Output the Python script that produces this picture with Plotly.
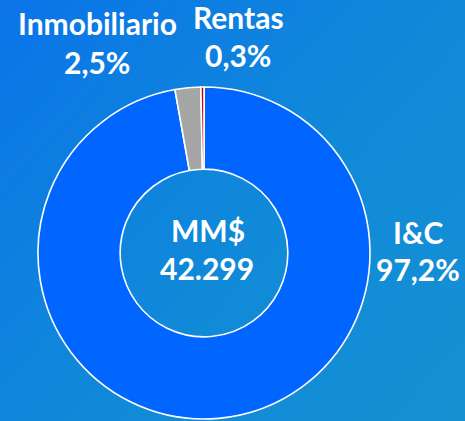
import numpy as np
import plotly.graph_objects as go

categories = ["I&C", "Inmobiliario", "Rentas"]
shares = [97.2, 2.5, 0.3]
share_labels = ["97,2%", "2,5%", "0,3%"]
colors = ["#0066FF", "#A6A6A6", "#C00000"]
total_label = "MM$"
total_value = "42.299"

W, H = 465, 421
FONT = "Lato"

# background gradient (decoration)
nx, ny = 40, 40
gx = np.linspace(-0.05, 1.05, nx)
gy = np.linspace(-0.05, 1.05, ny)
X, Y = np.meshgrid(gx, gy)
Z = 0.55 * X + 0.45 * (1 - Y)

fig = go.Figure()
fig.add_trace(go.Heatmap(
    z=Z, x=gx, y=gy, showscale=False, hoverinfo="skip",
    colorscale=[[0, "#0A72EA"], [0.5, "#1088DA"], [1, "#1692D0"]],
    zsmooth="best", xaxis="x", yaxis="y",
))

cx, cy, r = 204, 253, 166
fig.add_trace(go.Pie(
    labels=categories, values=shares, sort=False, direction="clockwise",
    rotation=0, hole=0.505, textinfo="none", hoverinfo="label+percent",
    marker=dict(colors=colors, line=dict(color="white", width=1.6)),
    domain=dict(x=[(cx - r) / W, (cx + r) / W], y=[(H - cy - r) / H, (H - cy + r) / H]),
    showlegend=False,
))

def ann(text, x, y, size=30):
    fig.add_annotation(text=f"<b>{text}</b>", x=x / W, y=1 - y / H, xref="paper", yref="paper",
                       showarrow=False, font=dict(family=FONT, size=size, color="white"),
                       xanchor="center", yanchor="middle")

ann(categories[1], 97, 23)
ann(share_labels[1], 97, 62)
ann(categories[2], 238, 17)
ann(share_labels[2], 238, 55)
ann(categories[0], 418, 232)
ann(share_labels[0], 418, 269)
ann(total_label, 208, 230)
ann(total_value, 207, 268)

fig.update_layout(
    width=W, height=H, margin=dict(l=0, r=0, t=0, b=0),
    paper_bgcolor="#0E80E0", plot_bgcolor="#0E80E0",
    xaxis=dict(domain=[0, 1], range=[0, 1], visible=False, fixedrange=True),
    yaxis=dict(domain=[0, 1], range=[0, 1], visible=False, fixedrange=True),
)
fig.write_html("out.html", config={"displayModeBar": False},
               post_script="document.body.style.margin='0';document.body.style.overflow='hidden';")
